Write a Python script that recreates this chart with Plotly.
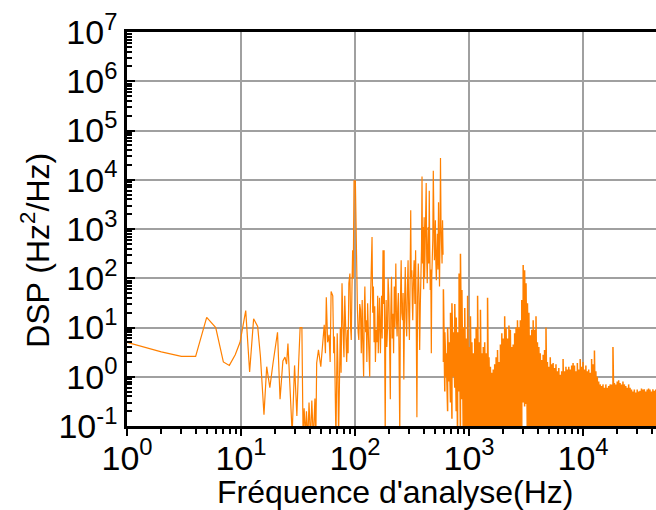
import plotly.graph_objects as go

# ---------------- data ----------------
# low / mid frequency part (Hz, DSP)
sparse_freq = [
    1.0, 2.0, 3.0, 4.0, 5.0, 6.0, 7.0, 7.9, 8.9, 9.8,
    11.0, 11.9, 12.9, 14.0, 14.8, 15.9, 16.8, 17.9, 19.1, 20.9,
    22.0, 23.3, 24.3, 25.1, 25.8, 26.9, 28.1, 29.5, 30.9, 32.0,
    33.0, 34.2, 35.0, 35.8, 36.6, 37.5, 38.5, 39.5, 40.7, 41.8,
    43.1, 44.5, 45.3, 46.1, 47.8, 50.1, 51.5, 53.7, 55, 56,
    57.5, 59.2, 60.5, 61.7, 63.8, 65, 66, 67, 68, 69.8,
    70.7, 71.7, 73, 74.3, 75.5, 76.9, 79, 80, 81.3, 83,
    84.5, 86, 87, 88.3, 90.2, 91.5, 92.7, 94, 95.3, 96.5,
    98, 100.7, 102.8, 104, 105, 106.5, 108, 110, 111.7, 113.5,
    115.6, 117, 119, 120.5, 122, 124, 125.6, 127, 129, 132,
    134.6, 136, 138, 141, 143, 145, 147, 149, 151, 153.5,
    156, 158, 160, 162, 164, 167, 169, 171, 173, 176,
    178, 180, 182, 184, 186, 187.5, 190, 193, 195, 198,
    201, 204, 206, 209, 212, 215, 218, 221, 224, 228,
    231, 234, 237, 240, 243, 247, 250, 254, 257, 261,
    264, 268, 272, 276, 280, 284, 288, 292, 296, 300,
    304, 308, 311, 315, 318, 321, 325, 330, 335, 340,
    344, 349, 354, 359, 364, 369, 374, 379, 383, 387,
    391, 395, 400, 404, 408, 412, 416, 421, 425, 430,
    434, 439, 443, 448, 452, 457, 462, 467, 471, 476,
    481, 486, 491, 497, 502, 507, 512, 517, 522, 528,
    534, 540, 545, 551, 556, 562, 568, 574, 580, 586,
    592,
]
sparse_dsp = [
    5.0, 3.2, 2.6, 2.6, 16, 10, 2.0, 1.7, 2.8, 5.0,
    22, 1.25, 15, 10.5, 2.6, 0.17, 1.6, 0.6, 1.9, 8.0,
    0.35, 2.1, 2.5, 1.8, 4.7, 0.64, 0.07, 1.7, 0.16, 1.8,
    10, 10, 0.07, 0.23, 0.06, 0.2, 0.05, 0.3, 0.05, 0.33,
    0.05, 0.36, 0.05, 1.9, 3.5, 1.6, 4, 11.3, 3, 41,
    5, 7.1, 2, 54, 44, 3, 6.6, 1, 0.05, 7.6,
    2, 0.05, 3, 10, 1.2, 79, 5.6, 2.5, 44, 8.2,
    2, 9, 3, 79, 125, 10, 5.6, 60, 370, 100,
    9500, 9500, 125, 60, 23, 8, 5.6, 30, 23, 3,
    36, 5, 1.0, 20, 68, 8, 14, 2, 31, 4,
    1.0, 20, 107, 690, 20, 68, 5, 27, 2, 9,
    5, 44, 3, 14, 40, 3.0, 10, 44, 6, 370,
    30, 370, 5, 0.06, 10, 36, 4, 10, 100, 44,
    5, 0.35, 20, 107, 6, 19, 3, 68, 10, 200,
    15, 6.6, 25, 50, 4, 0.06, 30, 233, 20, 14,
    50, 0.88, 30, 170, 15, 6.6, 60, 233, 20, 5.6,
    80, 2400, 100, 146, 30, 14, 80, 233, 30, 370,
    20, 0.15, 40, 200, 50, 3.5, 30, 91, 400, 11600,
    200, 1100, 60, 1740, 100, 316, 2000, 8600, 300, 79,
    400, 1100, 200, 6000, 500, 58, 150, 3, 100, 316,
    600, 15300, 1000, 233, 400, 1500, 200, 91, 300, 800,
    150, 3500, 400, 68, 500, 27600, 1200, 370, 200, 1500,
    300,
]

# high frequency part: densely packed spectrum (frequency, local trough, local peak)
dense_freq = [
    596, 613, 631, 649, 668, 688, 708, 729, 750, 772,
    794, 818, 841, 866, 891, 917, 944, 972,
    1000, 1029, 1059, 1090, 1122, 1155, 1189, 1223, 1259, 1296,
    1334, 1372, 1413, 1454, 1496, 1540, 1585, 1631, 1679, 1728,
    1778, 1830, 1884, 1939, 1995, 2054, 2113, 2175, 2239, 2304,
    2371, 2441, 2512, 2585, 2661, 2738, 2818, 2901, 2985, 3073,
    3162, 3255, 3350, 3447, 3548, 3652, 3758, 3868, 3981, 4097,
    4217, 4340, 4467, 4597, 4732, 4870, 5012, 5158, 5309, 5464,
    5623, 5788, 5957, 6131, 6310, 6494, 6683, 6879, 7079, 7286,
    7499, 7718, 7943, 8175, 8414, 8660, 8913, 9173, 9441, 9716,
    10000, 10290, 10590, 10900, 11220, 11550, 11890, 12230, 12590, 12960,
    13340, 13720, 14130, 14540, 14960, 15400, 15850, 16310, 16790, 17280,
    17780, 18300, 18840, 19390, 19950, 20540, 21130, 21750, 22390, 23040,
    23710, 24410, 25120, 25850, 26610, 27380, 28180, 29010, 29850, 30730,
    31620, 32550, 33500, 34470, 35480, 36520, 37580, 38680, 39810, 40970,
    42170, 43400, 44670, 45970, 47320,
]
dense_peak = [
    60, 8, 3, 10, 5, 20, 31, 8, 30, 16,
    8, 125, 316, 58, 10, 25, 6, 44,
    4, 17, 5, 3, 6, 10, 44, 5, 23, 3,
    4, 5, 3, 40, 2.5, 1.6, 1.2, 1.4, 1.8, 2.5,
    3.5, 2, 4.5, 7.6, 6, 17, 9.8, 6, 11, 9,
    4, 4.5, 7.6, 10, 14, 10, 14, 36, 185, 146,
    79, 31, 20, 7, 9, 14, 9, 17, 5, 4,
    3, 2.2, 2.8, 3.5, 10, 2, 1.6, 2.5, 1.8, 1.9,
    1.5, 1.8, 1.3, 1.5, 1.1, 1.3, 2.3, 1.3, 1.6, 1.4,
    1.6, 1.4, 1.7, 1.9, 1.7, 1.3, 1.9, 1.4, 2.3, 1.6,
    2.0, 1.4, 1.7, 1.3, 1.4, 1.2, 2.3, 1.8, 3.4, 1.3,
    1.0, 0.8, 0.7, 0.65, 0.7, 0.6, 0.7, 0.6, 0.65, 0.7,
    0.7, 4.0, 0.75, 0.7, 0.8, 0.85, 0.75, 0.7, 0.8, 0.7,
    0.65, 0.6, 0.7, 0.6, 0.55, 0.5, 0.55, 0.48, 0.55, 0.5,
    0.52, 0.58, 0.55, 0.56, 0.5, 0.55, 0.58, 0.55, 0.5, 0.56,
    0.52, 0.55, 0.5, 0.55, 0.52,
]
dense_trough = [
    2, 0.5, 1, 0.2, 0.8, 0.3, 0.14, 1, 0.6, 0.2,
    0.05, 0.5, 0.05, 0.35, 0.05, 0.03, 0.04, 0.02,
    0.03, 0.02, 0.04, 0.03, 0.02, 0.03, 0.02, 0.03, 0.04, 0.02,
    0.03, 0.02, 0.03, 0.04, 0.02, 0.03, 0.03, 0.02, 0.04, 0.03,
    0.02, 0.03, 0.02, 0.04, 0.03, 0.02, 0.03, 0.04, 0.02, 0.03,
    0.02, 0.03, 0.04, 0.02, 0.03, 0.02, 0.03, 0.04, 0.3, 0.25,
    0.28, 0.03, 0.03, 0.02, 0.04, 0.03, 0.02, 0.03, 0.02, 0.04,
    0.03, 0.02, 0.03, 0.04, 0.02, 0.03, 0.02, 0.03, 0.04, 0.02,
    0.03, 0.02, 0.04, 0.03, 0.02, 0.03, 0.02, 0.03, 0.04, 0.02,
    0.03, 0.02, 0.03, 0.04, 0.02, 0.03, 0.02, 0.04, 0.03, 0.02,
    0.03, 0.02, 0.04, 0.03, 0.02, 0.03, 0.02, 0.03, 0.04, 0.02,
    0.03, 0.02, 0.03, 0.04, 0.02, 0.03, 0.02, 0.04, 0.03, 0.02,
    0.03, 0.02, 0.04, 0.03, 0.02, 0.03, 0.02, 0.03, 0.04, 0.02,
    0.03, 0.02, 0.03, 0.04, 0.02, 0.03, 0.02, 0.04, 0.03, 0.02,
    0.03, 0.02, 0.04, 0.03, 0.02, 0.03, 0.02, 0.03, 0.04, 0.02,
    0.03, 0.02, 0.03, 0.04, 0.02,
]

x_tickvals = [1, 10, 100, 1000, 10000]
x_ticktext = ["10<sup>0</sup>", "10<sup>1</sup>", "10<sup>2</sup>",
              "10<sup>3</sup>", "10<sup>4</sup>"]
y_tickvals = [0.1, 1, 10, 100, 1e3, 1e4, 1e5, 1e6, 1e7]
y_ticktext = ["10<sup>-1</sup>", "10<sup>0</sup>", "10<sup>1</sup>",
              "10<sup>2</sup>", "10<sup>3</sup>", "10<sup>4</sup>",
              "10<sup>5</sup>", "10<sup>6</sup>", "10<sup>7</sup>"]

x_title = "Fréquence d'analyse(Hz)"
y_title = "DSP (Hz<sup>2</sup>/Hz)"

# ---------------- assemble the dense line ----------------
x_dense = []
y_dense = []
for f, lo, hi in zip(dense_freq, dense_trough, dense_peak):
    x_dense += [f, f]
    y_dense += [lo, hi]

minor_x = [m * 10 ** d for d in range(0, 5) for m in range(2, 10)]
minor_y = [m * 10.0 ** d for d in range(-1, 7) for m in range(2, 10)]

FONT = "Liberation Sans, Arial, sans-serif"
ORANGE = "#FF8000"

fig = go.Figure()
fig.add_trace(go.Scatter(
    x=sparse_freq, y=sparse_dsp, mode="lines",
    line=dict(color=ORANGE, width=1.2),
    showlegend=False, hoverinfo="skip",
))
fig.add_trace(go.Scatter(
    x=x_dense, y=y_dense, mode="lines",
    line=dict(color=ORANGE, width=1.5),
    showlegend=False, hoverinfo="skip",
))

fig.update_layout(
    width=656, height=510,
    margin=dict(l=127, r=0, t=32, b=84, autoexpand=False),
    paper_bgcolor="white", plot_bgcolor="white",
    font=dict(family=FONT, color="black"),
    annotations=[
        dict(text=y_title, xref="paper", yref="paper", x=-0.174, y=0.447,
             textangle=-90, showarrow=False, xanchor="center", yanchor="middle",
             font=dict(family=FONT, size=32, color="black")),
        dict(text=x_title, xref="paper", yref="paper", x=0.5085, y=-0.167,
             showarrow=False, xanchor="center", yanchor="middle",
             font=dict(family=FONT, size=32, color="black")),
    ],
)
fig.update_xaxes(
    type="log", range=[0, 4.64], automargin=False,
    tickmode="array", tickvals=x_tickvals, ticktext=x_ticktext,
    tickfont=dict(family=FONT, size=34, color="black"),
    ticklabelstandoff=-7,
    showgrid=True, gridcolor="#a0a0a0", gridwidth=1.5,
    showline=True, linecolor="black", linewidth=2.5, mirror=True,
    ticks="outside", ticklen=7, tickwidth=2, tickcolor="black",
    minor=dict(tickvals=minor_x, ticks="outside", ticklen=5, tickwidth=1.5,
               tickcolor="black", showgrid=False),
    zeroline=False,
)
fig.update_yaxes(
    type="log", range=[-1, 7], automargin=False,
    tickmode="array", tickvals=y_tickvals, ticktext=y_ticktext,
    tickfont=dict(family=FONT, size=34, color="black"),
    showgrid=True, gridcolor="#a0a0a0", gridwidth=1.5,
    showline=True, linecolor="black", linewidth=2.5, mirror=False,
    ticks="inside", ticklen=8, tickwidth=2, tickcolor="black",
    minor=dict(tickvals=minor_y, ticks="inside", ticklen=5, tickwidth=1.5,
               tickcolor="black", showgrid=False),
    zeroline=False,
)

fig.write_html(
    "out.html",
    config={"displayModeBar": False},
    post_script="document.body.style.margin='0px';document.body.style.overflow='hidden';",
)
